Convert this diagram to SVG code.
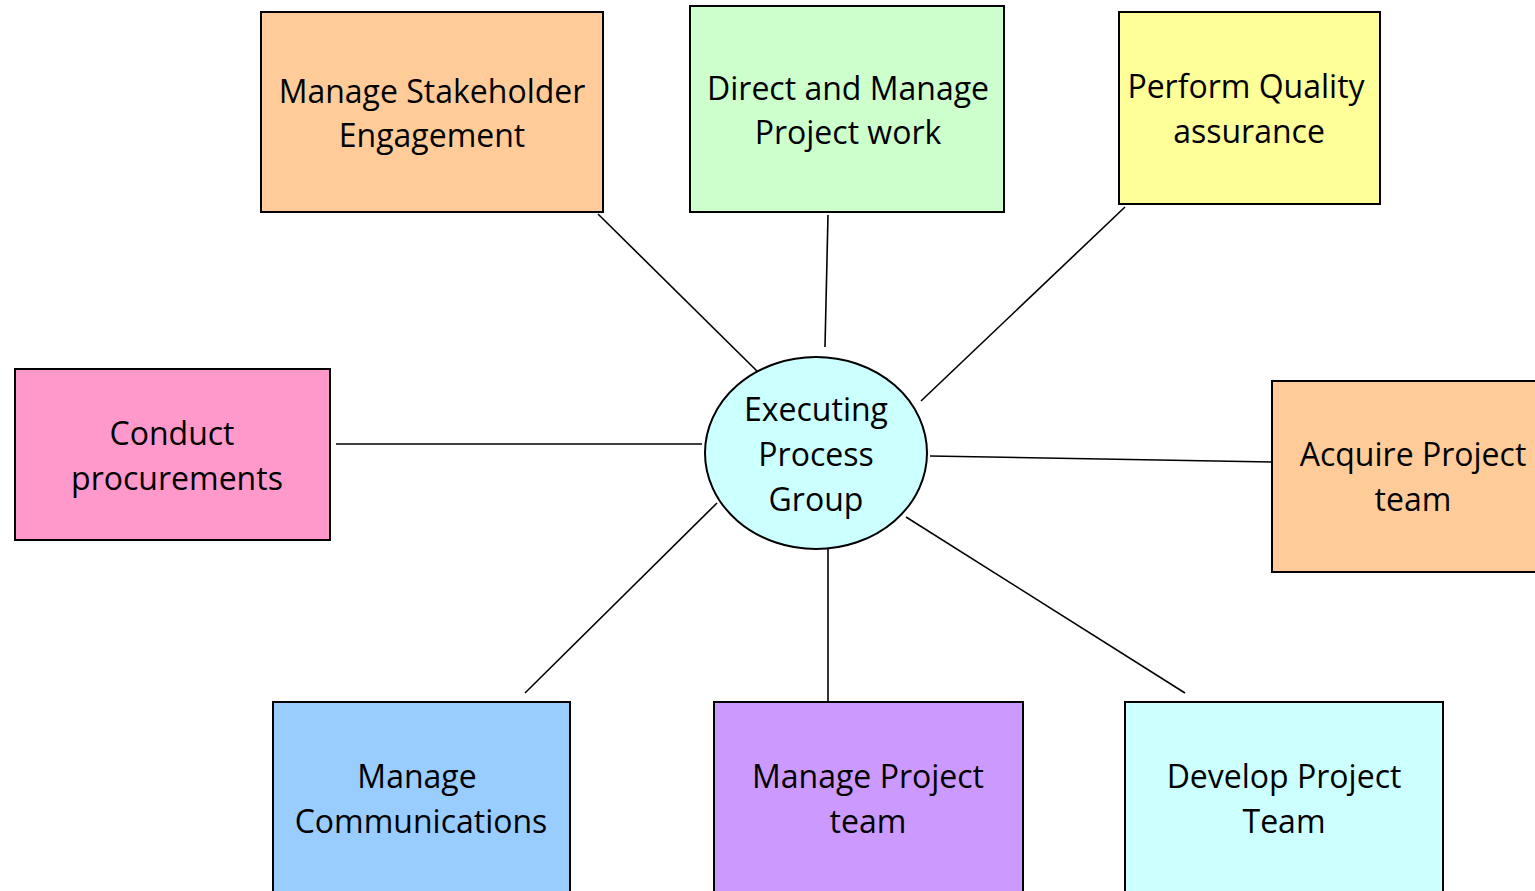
<svg xmlns="http://www.w3.org/2000/svg" width="1535" height="891" viewBox="0 0 1535 891">
<style>
.box{stroke:#000;stroke-width:2}
.t{font-family:"Open Sans","Noto Sans",sans-serif;font-size:32px;fill:#000;text-anchor:middle}
.c line{stroke:#000;stroke-width:1.6}
</style>
<rect width="1535" height="891" fill="#fff"/>
<g class="c" id="connectors">
<line x1="598" y1="214" x2="759" y2="373"/>
<line x1="828" y1="215" x2="825" y2="347"/>
<line x1="1125" y1="207" x2="921" y2="401"/>
<line x1="336" y1="444" x2="702" y2="444"/>
<line x1="930" y1="456" x2="1275" y2="462"/>
<line x1="717" y1="503" x2="525" y2="693"/>
<line x1="828" y1="549" x2="828" y2="707"/>
<line x1="906" y1="517" x2="1185" y2="693"/>
</g>
<g id="stakeholder"><rect class="box" x="261" y="12" width="342" height="200" fill="#FFCC99"/><text class="t" x="432" y="103">Manage Stakeholder</text><text class="t" x="432" y="147">Engagement</text></g>
<g id="direct"><rect class="box" x="690" y="6" width="314" height="206" fill="#CCFFCC"/><text class="t" x="848" y="100">Direct and Manage</text><text class="t" x="848" y="144">Project work</text></g>
<g id="quality"><rect class="box" x="1119" y="12" width="261" height="192" fill="#FFFF99"/><text class="t" x="1246" y="98">Perform Quality</text><text class="t" x="1249" y="143">assurance</text></g>
<g id="procurements"><rect class="box" x="15" y="369" width="315" height="171" fill="#FF99CC"/><text class="t" x="172" y="445">Conduct</text><text class="t" x="177" y="490">procurements</text></g>
<g id="acquire"><rect class="box" x="1272" y="381" width="270" height="191" fill="#FFCC99"/><text class="t" x="1413" y="466">Acquire Project</text><text class="t" x="1413" y="511">team</text></g>
<g id="communications"><rect class="box" x="273" y="702" width="297" height="200" fill="#99CCFF"/><text class="t" x="417" y="788">Manage</text><text class="t" x="421" y="833">Communications</text></g>
<g id="manageteam"><rect class="box" x="714" y="702" width="309" height="200" fill="#CC99FF"/><text class="t" x="868" y="788">Manage Project</text><text class="t" x="868" y="833">team</text></g>
<g id="developteam"><rect class="box" x="1125" y="702" width="318" height="200" fill="#CCFFFF"/><text class="t" x="1284" y="788">Develop Project</text><text class="t" x="1284" y="833">Team</text></g>
<g id="center"><ellipse class="box" cx="816" cy="453" rx="111" ry="96" fill="#CCFFFF"/><text class="t" x="816" y="421">Executing</text><text class="t" x="816" y="466">Process</text><text class="t" x="816" y="511">Group</text></g>
</svg>
